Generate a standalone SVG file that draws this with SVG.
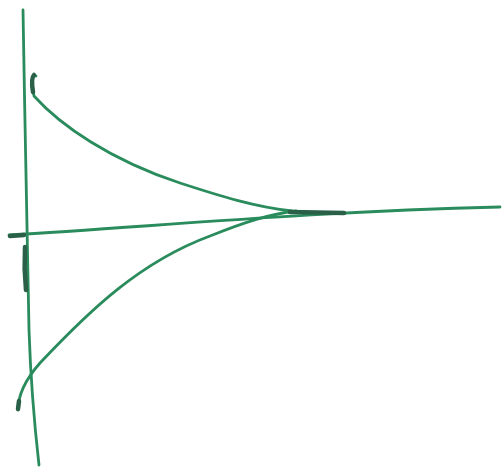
<svg xmlns="http://www.w3.org/2000/svg" width="504" height="472" viewBox="0 0 504 472">
<style>
.ln{fill:none;stroke:#2a8c5c;stroke-width:2.8;stroke-linecap:round;stroke-linejoin:round}
.tk{fill:none;stroke:#2a6048;stroke-width:4.5;stroke-linecap:round}
</style>
<rect width="504" height="472" fill="#fff"/>
<g id="connectors">
<path class="ln" d="M23,10 C25,120 27,250 29,330 C31,390 35,430 39,465"/>
<path class="ln" d="M9,235 C150,227 300,212 500,207"/>
<path class="ln" d="M36,76 C31,74 32,85 34,96 C60,125 110,160 180,183 C220,196 255,207 292,211"/>
<path class="ln" d="M18,410 C18,395 25,380 40,363 C90,310 140,262 210,236 C245,222 270,214 296,211"/>
</g>
<g id="marks">
<path class="tk" d="M25,247 C24,265 25,280 26,290"/>
<path class="tk" d="M10,236 L24,235"/>
<path class="tk" d="M290,212 L344,213"/>
<path class="tk" d="M34,75 C31,78 32,86 33,92"/>
<path class="tk" d="M18,409 L19,401"/>
</g>
</svg>
